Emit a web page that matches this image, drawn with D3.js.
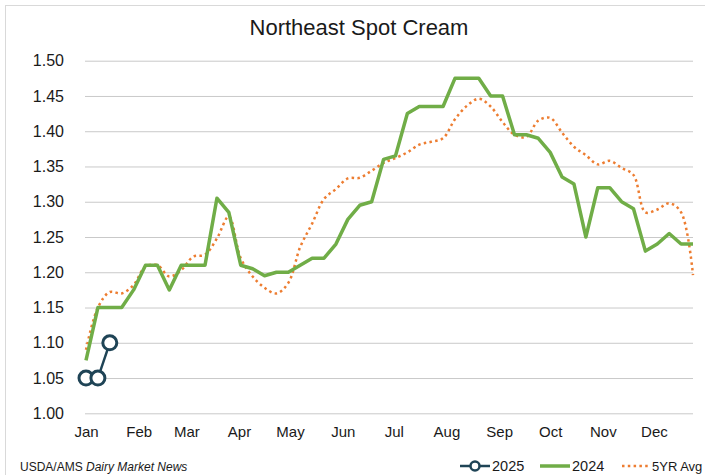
<!DOCTYPE html>
<html>
<head>
<meta charset="utf-8">
<script src="https://cdn.jsdelivr.net/npm/d3@7"></script>
<style>
  body { margin: 0; background: #fff; }
  text { font-family: "Liberation Sans", Arial, sans-serif; fill: #1a1a1a; }
</style>
</head>
<body>
<svg width="705" height="475"></svg>
<script>
// month labels sit at the first day of each month (day of year / 7 = week index)
var months = ["Jan","Feb","Mar","Apr","May","Jun","Jul","Aug","Sep","Oct","Nov","Dec"];
var monthStartDays = [0,31,59,90,120,151,181,212,243,273,304,334];
var yTicks = [1.00,1.05,1.10,1.15,1.20,1.25,1.30,1.35,1.40,1.45,1.50];

// weekly values, $/lb
var s2025 = [1.05, 1.05, 1.10];
var s2024 = [1.075,1.15,1.15,1.15,1.175,1.21,1.21,1.175,1.21,1.21,1.21,1.305,1.285,1.21,1.205,1.195,1.20,
             1.20,1.21,1.22,1.22,1.24,1.275,1.295,1.30,1.36,1.365,1.425,1.435,1.435,1.435,1.475,1.475,1.475,
             1.45,1.45,1.395,1.395,1.39,1.37,1.335,1.325,1.25,1.32,1.32,1.30,1.29,1.23,1.24,1.255,1.24,1.24];
var s5yr = [1.09,1.15,1.172,1.17,1.182,1.208,1.21,1.194,1.203,1.222,1.225,1.248,1.279,1.22,1.194,1.178,1.17,
            1.185,1.236,1.269,1.304,1.318,1.333,1.334,1.344,1.355,1.362,1.37,1.381,1.385,1.39,1.417,1.436,1.446,
            1.435,1.413,1.395,1.392,1.415,1.419,1.398,1.378,1.366,1.353,1.358,1.348,1.338,1.285,1.289,1.298,1.285,1.196];

var c2025 = "#1f4456", c2024 = "#70ad47", c5yr = "#ed7d31";

var svg = d3.select("svg");

svg.append("rect")
   .attr("x", 5.5).attr("y", 5.5)
   .attr("width", 720).attr("height", 490)
   .attr("fill", "#fff")
   .attr("stroke", "#d9d9d9");

var x = d3.scaleLinear().domain([0, 51]).range([86, 693]),
    y = d3.scaleLinear().domain([1.0, 1.5]).range([413.3, 60.7]);

svg.append("text")
   .attr("x", 359).attr("y", 35)
   .attr("text-anchor", "middle")
   .style("font-size", "22px")
   .text("Northeast Spot Cream");

// y axis + gridlines
var gy = svg.append("g")
   .attr("transform", "translate(85,0)")
   .call(d3.axisLeft(y).tickValues(yTicks)
           .tickFormat(d3.format(".2f"))
           .tickSize(-608).tickPadding(21));
gy.select(".domain").remove();
gy.selectAll(".tick line").attr("stroke", "#c9c9c9").attr("stroke-width", 1);
gy.selectAll(".tick text").style("font-size", "16px").attr("fill", "#1a1a1a")
  .style("font-family", "'Liberation Sans', Arial, sans-serif");

// x axis
var gx = svg.append("g")
   .attr("transform", "translate(0,426)")
   .call(d3.axisBottom(x)
           .tickValues(monthStartDays.map(function(d) { return d / 7; }))
           .tickFormat(function(d, i) { return months[i]; })
           .tickSize(0).tickPadding(0));
gx.select(".domain").remove();
gx.selectAll(".tick text").style("font-size", "15px").attr("fill", "#1a1a1a").attr("dy", "0.71em")
  .style("font-family", "'Liberation Sans', Arial, sans-serif");

var line = d3.line()
   .x(function(d, i) { return x(i); })
   .y(function(d) { return y(d); });

svg.append("path")
   .datum(s5yr)
   .attr("fill", "none")
   .attr("stroke", c5yr)
   .attr("stroke-width", 2.5)
   .attr("stroke-dasharray", "2.5,3.3")
   .attr("d", line.curve(d3.curveCatmullRom)(s5yr));

svg.append("path")
   .attr("fill", "none")
   .attr("stroke", c2024)
   .attr("stroke-width", 3.5)
   .attr("stroke-linejoin", "round")
   .attr("d", line.curve(d3.curveLinear)(s2024));

svg.append("path")
   .attr("fill", "none")
   .attr("stroke", c2025)
   .attr("stroke-width", 2.5)
   .attr("d", line(s2025));

svg.selectAll(".dot")
   .data(s2025)
   .enter().append("circle")
   .attr("class", "dot")
   .attr("cx", function(d, i) { return x(i); })
   .attr("cy", function(d) { return y(d); })
   .attr("r", 7)
   .attr("fill", "#fff")
   .attr("stroke", c2025)
   .attr("stroke-width", 3);

// footer
var src = svg.append("text").attr("x", 20).attr("y", 471).style("font-size", "12px");
src.append("tspan").text("USDA/AMS ");
src.append("tspan").style("font-style", "italic").text("Dairy Market News");

// legend
var lg = svg.append("g");
lg.append("line").attr("x1", 460).attr("x2", 490).attr("y1", 466).attr("y2", 466)
  .attr("stroke", c2025).attr("stroke-width", 2.5);
lg.append("circle").attr("cx", 475).attr("cy", 466).attr("r", 4.5)
  .attr("fill", "#fff").attr("stroke", c2025).attr("stroke-width", 2.5);
lg.append("text").attr("x", 492).attr("y", 471).style("font-size", "14.5px").text("2025");

lg.append("line").attr("x1", 540).attr("x2", 570).attr("y1", 466).attr("y2", 466)
  .attr("stroke", c2024).attr("stroke-width", 3.5);
lg.append("text").attr("x", 572).attr("y", 471).style("font-size", "14.5px").text("2024");

lg.append("line").attr("x1", 622).attr("x2", 650).attr("y1", 466).attr("y2", 466)
  .attr("stroke", c5yr).attr("stroke-width", 2.5).attr("stroke-dasharray", "2.5,3.3");
lg.append("text").attr("x", 652).attr("y", 471).style("font-size", "13px").text("5YR Avg");
</script>
</body>
</html>
